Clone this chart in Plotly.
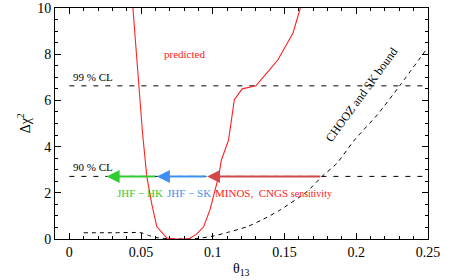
import plotly.graph_objects as go

# predicted curve (red)
pred_theta = [0.0443, 0.0475, 0.051, 0.054, 0.0575, 0.061, 0.0655, 0.068, 0.072, 0.076, 0.080, 0.084,
              0.0885, 0.0936, 0.098, 0.104, 0.106, 0.111, 0.115, 0.1205, 0.130, 0.1395, 0.1454, 0.1559, 0.161]
pred_chi2 = [10.0, 7.3, 4.6, 2.7, 1.5, 0.53, 0.2, 0.04, 0.01, 0.0, 0.0, 0.03,
             0.2, 0.53, 1.26, 2.7, 3.42, 4.29, 6.03, 6.5, 6.63, 7.32, 7.76, 8.92, 10.0]

# CHOOZ and SK bound (dashed black)
chooz_theta = [0.01, 0.03, 0.05, 0.055, 0.06, 0.065, 0.07, 0.08, 0.09, 0.1005, 0.11, 0.1238, 0.135,
               0.147, 0.1656, 0.176, 0.1865, 0.1988, 0.215, 0.2302, 0.25]
chooz_chi2 = [0.27, 0.27, 0.27, 0.16, 0.07, 0.03, 0.01, 0.0, 0.03, 0.13, 0.28, 0.53, 0.85,
              1.26, 2.05, 2.7, 3.28, 4.29, 5.4, 6.63, 8.3]

cl_levels = [6.63, 2.71]
cl_labels = ["99 % CL", "90 % CL"]
cl_theta = [0.0, 0.25]

# sensitivity arrows: (start, tip, colour)
arrow_start = [0.176, 0.096, 0.061]
arrow_tip = [0.096, 0.061, 0.026]
arrow_colors = ["#d24848", "#3f8ff0", "#30cc30"]

serif = "Liberation Serif, Times New Roman, serif"

fig = go.Figure()
for lvl in cl_levels:
    fig.add_trace(go.Scatter(x=cl_theta, y=[lvl, lvl], mode="lines",
                             line=dict(color="black", width=1, dash="5px,7px"),
                             hoverinfo="skip", showlegend=False))
fig.add_trace(go.Scatter(x=chooz_theta, y=chooz_chi2, mode="lines",
                         line=dict(color="black", width=1, dash="4px,4px", shape="spline", smoothing=0.6),
                         showlegend=False))
fig.add_trace(go.Scatter(x=pred_theta, y=pred_chi2, mode="lines",
                         line=dict(color="#ff2020", width=1.1),
                         showlegend=False))

ann = []
for s, t, c in zip(arrow_start, arrow_tip, arrow_colors):
    ann.append(dict(x=t, y=cl_levels[1], ax=s, ay=cl_levels[1], xref="x", yref="y", axref="x", ayref="y",
                    showarrow=True, arrowhead=2, arrowsize=1.3, arrowwidth=2, arrowcolor=c, text=""))

ann += [
    dict(x=0.001, y=cl_levels[0], text=cl_labels[0], showarrow=False, xanchor="left", yanchor="bottom",
         yshift=1, font=dict(family=serif, size=11, color="black")),
    dict(x=0.001, y=cl_levels[1], text=cl_labels[1], showarrow=False, xanchor="left", yanchor="bottom",
         yshift=1, font=dict(family=serif, size=11, color="black")),
    dict(x=0.08, y=8.0, text="predicted", showarrow=False,
         font=dict(family=serif, size=11, color="#ff2020")),
    dict(x=0.0315, y=1.98, text="JHF − HK", showarrow=False, xanchor="left",
         font=dict(family=serif, size=11, color="#30cc30")),
    dict(x=0.0665, y=1.98, text="JHF − SK", showarrow=False, xanchor="left",
         font=dict(family=serif, size=11, color="#3f8ff0")),
    dict(x=0.0998, y=1.98, text="MINOS,  CNGS <span style='font-size:10px'>sensitivity</span>", showarrow=False,
         xanchor="left", font=dict(family=serif, size=11, color="#ff2020")),
    dict(x=0.2035, y=6.24, text="CHOOZ and SK bound", showarrow=False, textangle=-54,
         font=dict(family=serif, size=12, color="black")),
    # axis titles
    dict(x=0.12, y=-0.085, xref="x", yref="paper", text="θ<sub>13</sub>", showarrow=False,
         xanchor="center", yanchor="top", font=dict(family=serif, size=14, color="black")),
    dict(x=-0.113, y=5.0, xref="paper", yref="y", text="Δχ<sup>2</sup>", showarrow=False, textangle=-90,
         font=dict(family=serif, size=14, color="black")),
]

fig.update_layout(
    width=452, height=280,
    margin=dict(l=55, r=24, t=8, b=41, autoexpand=False),
    paper_bgcolor="white", plot_bgcolor="white",
    font=dict(family=serif, size=13, color="black"),
    annotations=ann,
    xaxis=dict(range=[-0.01, 0.25], tick0=0, dtick=0.05, ticks="inside", ticklen=6, tickcolor="black",
               showline=True, linecolor="black", linewidth=1, mirror="allticks", showgrid=False, zeroline=False,
               tickfont=dict(family=serif, size=14), automargin=False,
               minor=dict(tick0=0, dtick=0.01, ticks="inside", ticklen=3, tickcolor="black", showgrid=False)),
    yaxis=dict(range=[0, 10], tick0=0, dtick=2, ticks="inside", ticklen=6, tickcolor="black",
               showline=True, linecolor="black", linewidth=1, mirror="allticks", showgrid=False, zeroline=False,
               tickfont=dict(family=serif, size=14), automargin=False,
               minor=dict(tick0=0, dtick=0.5, ticks="inside", ticklen=3, tickcolor="black", showgrid=False)),
)

fig.write_html("out.html", config={"displayModeBar": False},
               post_script="document.body.style.margin='0px';document.body.style.padding='0px';")
